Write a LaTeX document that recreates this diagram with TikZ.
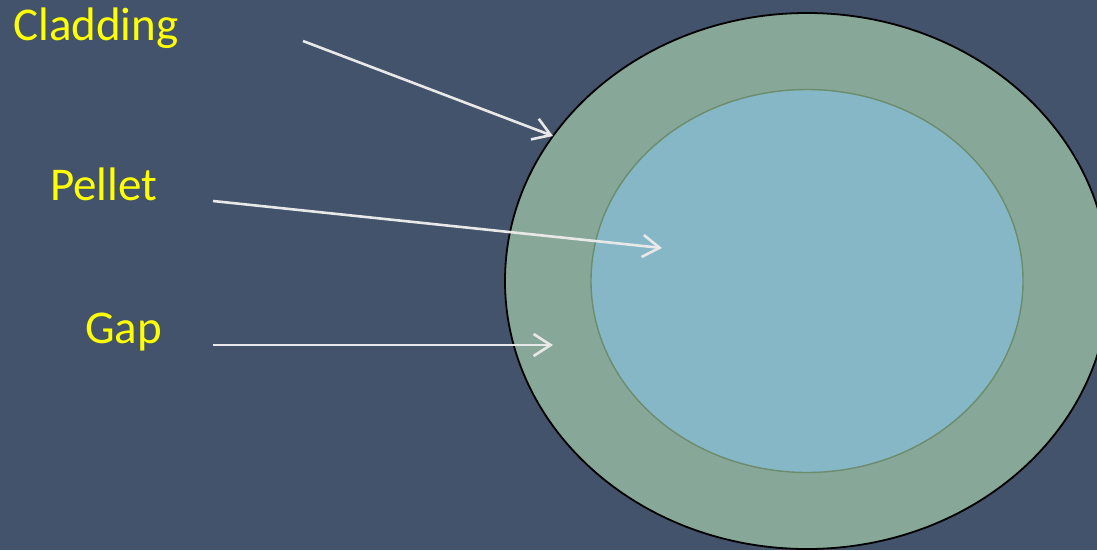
\documentclass[tikz,border=0pt]{standalone}
\usepackage{fontspec}
\setmainfont{Carlito}
\usetikzlibrary{arrows.meta,shapes.geometric}
\definecolor{bgc}{HTML}{42536B}
\definecolor{cladc}{HTML}{87A898}
\definecolor{pelc}{HTML}{86B7C6}
\definecolor{pelline}{HTML}{6C8C6C}
\definecolor{arrc}{HTML}{E8E8E8}
\definecolor{labc}{HTML}{FFFF00}
\tikzset{
  lab/.style={anchor=base west,inner sep=0pt,text=labc,font=\fontsize{47}{50}\selectfont},
  pointer/.style={draw=arrc,line width=2.6pt,-{Straight Barb[length=17pt,width=22pt,line width=2.6pt]}},
  ring/.style={ellipse,inner sep=0pt}
}
\begin{document}
\begin{tikzpicture}[x=1pt,y=-1pt]
\useasboundingbox (0,0) rectangle (1097,550);
\clip (0,0) rectangle (1097,550);
\fill[bgc] (0,0) rectangle (1097,550);
\node[ring,draw=black,line width=1.8pt,fill=cladc,minimum width=604pt,minimum height=536pt] (clad) at (807,281) {};
\node[ring,draw=pelline,line width=1.4pt,fill=pelc,minimum width=432pt,minimum height=383pt] (pel) at (807,281) {};
\node[lab] (tclad) at (13,40) {Cladding};
\node[lab] (tpel) at (50,200) {Pellet};
\node[lab] (tgap) at (85,343) {Gap};
\coordinate (s1) at (303,41);
\coordinate (e1) at (553,136);
\coordinate (s2) at (213,201);
\coordinate (e2) at (662,248);
\coordinate (s3) at (213,345);
\coordinate (e3) at (553,345);
\draw[pointer] (s1) -- (e1);
\draw[pointer] (s2) -- (e2);
\draw[pointer] (s3) -- (e3);
\end{tikzpicture}
\end{document}
